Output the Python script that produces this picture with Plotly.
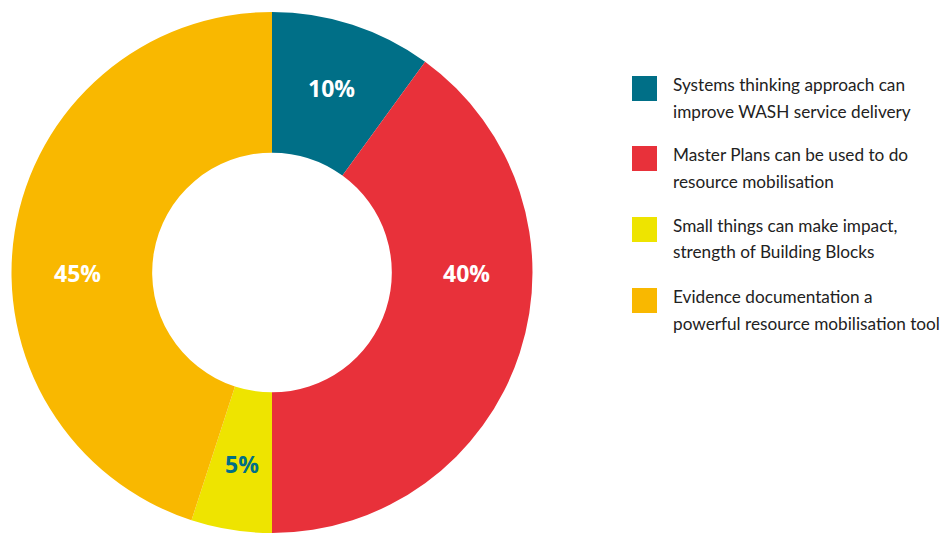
import math
import plotly.graph_objects as go

categories = [
    "Systems thinking approach can improve WASH service delivery",
    "Master Plans can be used to do resource mobilisation",
    "Small things can make impact, strength of Building Blocks",
    "Evidence documentation a powerful resource mobilisation tool",
]
legend_lines = [
    ["Systems thinking approach can", "improve WASH service delivery"],
    ["Master Plans can be used to do", "resource mobilisation"],
    ["Small things can make impact,", "strength of Building Blocks"],
    ["Evidence documentation a", "powerful resource mobilisation tool"],
]
values = [10, 40, 5, 45]
colors = ["#006F87", "#E8313A", "#EEE400", "#F9B800"]
label_colors = ["white", "white", "#006F87", "white"]

# The page body has an 8px margin; coordinates below are relative to the figure.
W, H = 952, 525
HOLE = 0.46
CX, CY = 264.0, 264.5      # pie centre, px from figure top-left
R = 260.5                  # outer radius in px
LABEL_FONT = "Open Sans"
LEGEND_FONT = "Lato"

fig = go.Figure()
fig.add_trace(go.Pie(
    labels=categories,
    values=values,
    sort=False,
    direction="clockwise",
    rotation=0,
    hole=HOLE,
    marker=dict(colors=colors, line=dict(width=0)),
    textinfo="none",
    showlegend=False,
    hoverinfo="label+percent",
    domain=dict(x=[(CX - R) / W, (CX + R) / W], y=[0.0, 2 * R / H]),
))

annotations = []
shapes = []

# percentage labels placed in the ring (snapped to horizontal when the slice spans it)
total = sum(values)
start = 0.0
r_lab = R * 0.745
for v, tc in zip(values, label_colors):
    a0 = start
    a1 = start + 360.0 * v / total
    start = a1
    mid = (a0 + a1) / 2
    for snap in (90.0, 270.0):
        if a0 < snap < a1:
            mid = snap
    th = math.radians(mid)
    px = CX + r_lab * math.sin(th)
    py = CY - r_lab * math.cos(th)
    annotations.append(dict(
        text=f"<b>{v}%</b>", xref="paper", yref="paper",
        x=px / W, y=1 - py / H, xanchor="center", yanchor="middle",
        showarrow=False,
        font=dict(family=LABEL_FONT, size=23, color=tc),
    ))

# legend
marker_centers = [80.5, 150.5, 221.5, 292.5]
for i, (lines, col) in enumerate(zip(legend_lines, colors)):
    yc = marker_centers[i]
    shapes.append(dict(
        type="rect", xref="paper", yref="paper",
        x0=624 / W, x1=649 / W,
        y0=1 - (yc - 12.5) / H, y1=1 - (yc + 12.5) / H,
        fillcolor=col, line=dict(width=0),
    ))
    for j, line in enumerate(lines):
        ty = yc - 4 + 26.5 * j
        annotations.append(dict(
            text=line, xref="paper", yref="paper",
            x=663 / W, y=1 - ty / H, xanchor="left", yanchor="middle",
            showarrow=False,
            font=dict(family=LEGEND_FONT, size=17.2, color="#222222"),
        ))

fig.update_layout(
    width=W, height=H,
    margin=dict(l=0, r=0, t=0, b=0),
    paper_bgcolor="white",
    plot_bgcolor="white",
    shapes=shapes,
    annotations=annotations,
)

fig.write_html("out.html")
